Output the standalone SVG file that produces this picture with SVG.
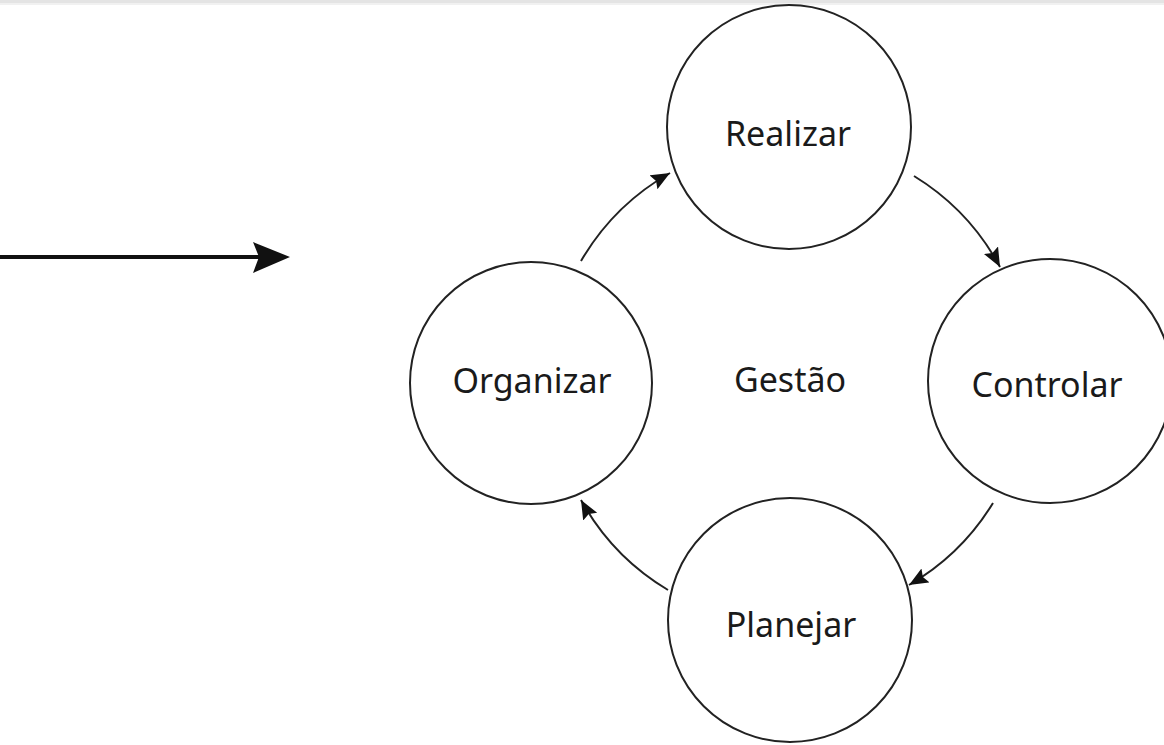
<svg xmlns="http://www.w3.org/2000/svg" width="1164" height="745" viewBox="0 0 1164 745">
<style>
.node circle{fill:none;stroke:#222;stroke-width:2}
.node text{font-family:"Noto Sans","DejaVu Sans",sans-serif;font-size:34px;fill:#1a1a1a;text-anchor:middle}
.conn path{fill:none;stroke:#222;stroke-width:2}
</style>
<defs>
<marker id="ah" markerUnits="userSpaceOnUse" markerWidth="22" markerHeight="18" refX="19" refY="8" orient="auto">
<path d="M0,0 L19,8 L0,16 L3,8 Z" fill="#111"/>
</marker>
</defs>
<rect x="0" y="0" width="1164" height="745" fill="#fff"/>
<rect x="0" y="0" width="1164" height="3" fill="#e4e4e4"/>
<rect x="0" y="3" width="1164" height="2" fill="#f1f1f1"/>
<g id="input-arrow">
<line x1="0" y1="257" x2="262" y2="257" stroke="#111" stroke-width="4"/>
<path d="M253,242 L290,257 L253,273 L259,257 Z" fill="#111"/>
</g>
<g id="realizar" class="node"><circle cx="789" cy="127" r="122"/><text x="788" y="146">Realizar</text></g>
<g id="controlar" class="node"><circle cx="1050" cy="381" r="122"/><text x="1047" y="397">Controlar</text></g>
<g id="planejar" class="node"><circle cx="790" cy="620" r="122"/><text x="791" y="637">Planejar</text></g>
<g id="organizar" class="node"><circle cx="531" cy="383" r="121"/><text x="532" y="393">Organizar</text></g>
<g id="gestao" class="node"><text x="790" y="392">Gestão</text></g>
<g id="connectors" class="conn">
<path d="M581,261 A240,240 0 0 1 670,173" marker-end="url(#ah)"/>
<path d="M914,176 A240,240 0 0 1 1000,267" marker-end="url(#ah)"/>
<path d="M993,503 A238,238 0 0 1 909,585" marker-end="url(#ah)"/>
<path d="M668,590 A240,240 0 0 1 581,500" marker-end="url(#ah)"/>
</g>
</svg>
